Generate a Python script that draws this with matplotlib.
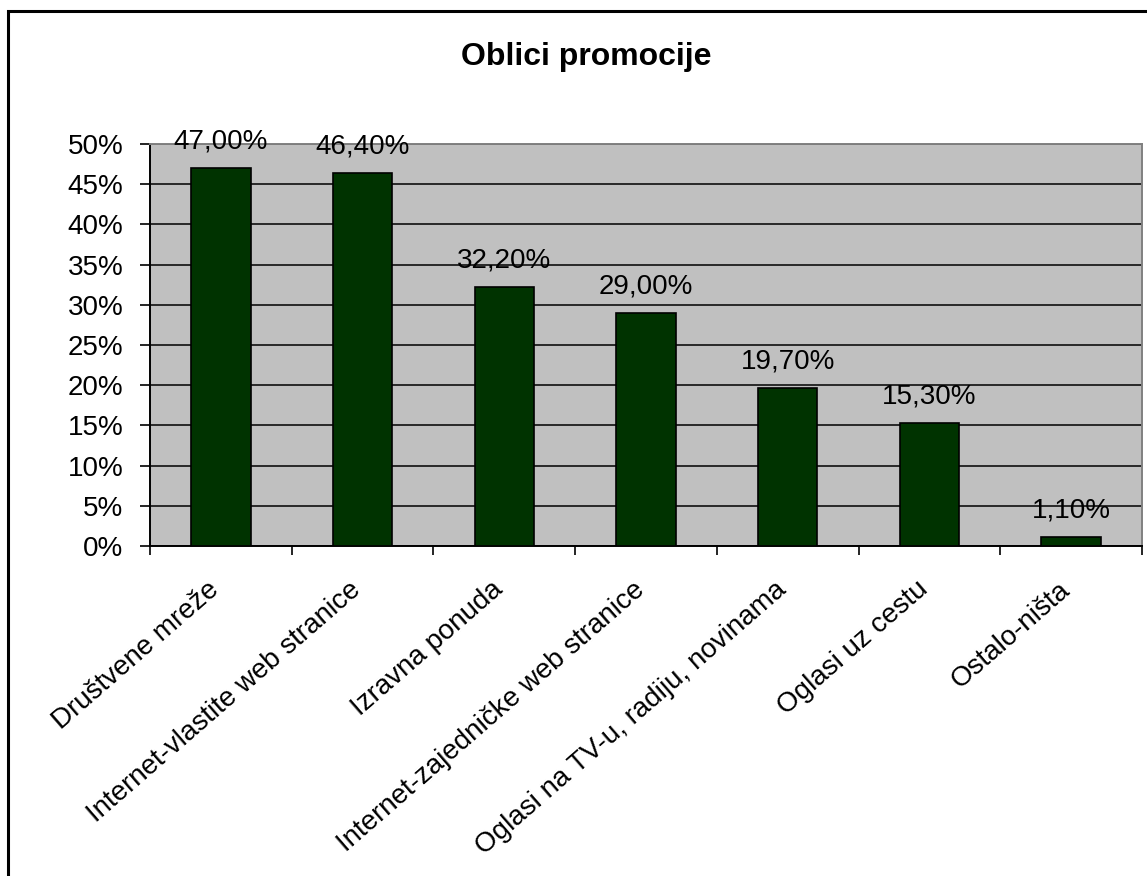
import matplotlib
matplotlib.use("Agg")
import matplotlib.pyplot as plt
from matplotlib.patches import Rectangle
from matplotlib.ticker import FuncFormatter
from matplotlib.transforms import ScaledTranslation

categories = ["Društvene mreže", "Internet-vlastite web stranice", "Izravna ponuda",
              "Internet-zajedničke web stranice", "Oglasi na TV-u, radiju, novinama",
              "Oglasi uz cestu", "Ostalo-ništa"]
values = [47.0, 46.4, 32.2, 29.0, 19.7, 15.3, 1.1]
labels = ["47,00%", "46,40%", "32,20%", "29,00%", "19,70%", "15,30%", "1,10%"]

plt.rcParams['font.family'] = ['Liberation Sans', 'DejaVu Sans']

W, H = 1147, 876
fig = plt.figure(figsize=(W/100, H/100), dpi=100)
fig.patch.set_facecolor('white')

# outer border
fig.add_artist(Rectangle((8/W, -0.05), 1.2, 1 - 11/H + 0.05, transform=fig.transFigure,
                         fill=False, edgecolor='black', linewidth=2.2))

L, R, T, B = 150, 1142, 144, 546
ax = fig.add_axes([L/W, 1 - B/H, (R-L)/W, (B-T)/H])
ax.set_facecolor('#C0C0C0')

x = list(range(len(categories)))
ax.bar(x, values, width=0.42, color='#003300', edgecolor='black', linewidth=1.2, zorder=3)
for xi, v, lab in zip(x, values, labels):
    ax.annotate(lab, (xi, v), xytext=(0, 14), textcoords='offset points',
                ha='center', va='baseline', fontsize=20, zorder=4, annotation_clip=False)

ax.set_xlim(-0.5, len(categories) - 0.5)
ax.set_ylim(0, 50)
ax.set_yticks(range(0, 51, 5))
ax.yaxis.set_major_formatter(FuncFormatter(lambda v, p: f"{int(v)}%"))
ax.grid(axis='y', color='black', linewidth=1.1, zorder=1)
ax.set_axisbelow(True)

ax.set_xticks([i + 0.5 for i in range(-1, len(categories))], minor=False)
ax.set_xticklabels([])
ax.set_xticks(x, minor=True)
ax.set_xticklabels(categories, minor=True, rotation=41, ha='right', va='center',
                   rotation_mode='anchor', fontsize=20)
ax.tick_params(axis='x', which='minor', length=0, pad=29)
ax.tick_params(axis='x', which='major', length=6.5, width=1.2, direction='out')
ax.tick_params(axis='y', length=7.2, width=1.2, direction='out', labelsize=20, pad=12)
shift = ScaledTranslation(-5/100, 0, fig.dpi_scale_trans)
for lab in ax.get_xticklabels(minor=True):
    lab.set_transform(lab.get_transform() + shift)

for s in ['left', 'bottom']:
    ax.spines[s].set_color('black')
    ax.spines[s].set_linewidth(1.4)
for s in ['top', 'right']:
    ax.spines[s].set_color('#808080')
    ax.spines[s].set_linewidth(1.4)

fig.text(586/W, 1 - 65/H, "Oblici promocije", ha='center', va='baseline',
         fontsize=23, fontweight='bold')

fig.savefig("out.png", dpi=100)
